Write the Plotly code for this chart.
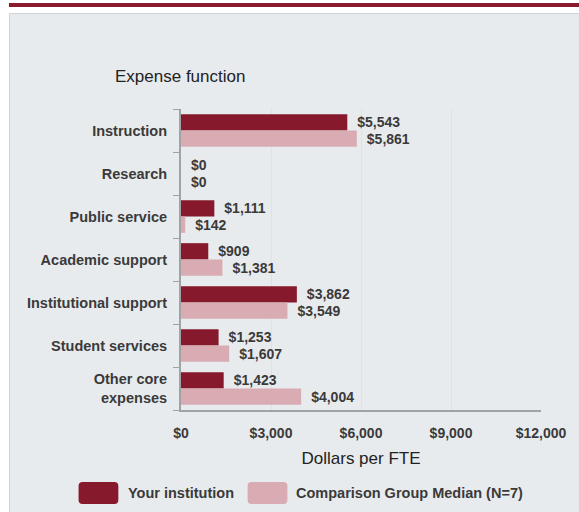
import plotly.graph_objects as go

categories = ["Instruction", "Research", "Public service", "Academic support",
              "Institutional support", "Student services", "Other core<br>expenses"]
your_institution = [5543, 0, 1111, 909, 3862, 1253, 1423]
comparison_median = [5861, 0, 142, 1381, 3549, 1607, 4004]
series_names = ["Your institution", "Comparison Group Median (N=7)"]
x_ticks = [0, 3000, 6000, 9000, 12000]
x_tick_labels = ["$0", "$3,000", "$6,000", "$9,000", "$12,000"]

DARK = "#861a2c"
LIGHT = "#d9acb3"
TXT = "#3a3a3a"
FONT = "Liberation Sans, Arial, sans-serif"

W, H = 579, 512
L, R, T, B = 181, 36, 109, 102
pw, ph = W - L - R, H - T - B

def px(x):
    return (x - L) / pw

def py(y):
    return (H - B - y) / ph

def rounded_rect(x0, y0, x1, y1, r):
    rx, ry = r / pw, r / ph
    X0, X1 = px(x0), px(x1)
    Y0, Y1 = py(y1), py(y0)
    return (f"M {X0+rx},{Y0} L {X1-rx},{Y0} Q {X1},{Y0} {X1},{Y0+ry} "
            f"L {X1},{Y1-ry} Q {X1},{Y1} {X1-rx},{Y1} L {X0+rx},{Y1} "
            f"Q {X0},{Y1} {X0},{Y1-ry} L {X0},{Y0+ry} Q {X0},{Y0} {X0+rx},{Y0} Z")

fig = go.Figure()
for name, vals, col in [(series_names[0], your_institution, DARK),
                        (series_names[1], comparison_median, LIGHT)]:
    fig.add_trace(go.Bar(
        y=categories, x=vals, name=name, orientation="h",
        marker=dict(color=col, line=dict(width=0)),
        texttemplate="\u2002<b>$%{x:,}</b>", textposition="outside", cliponaxis=False,
        textfont=dict(family=FONT, size=14, color=TXT),
        showlegend=False,
    ))

shapes = [
    dict(type="rect", xref="paper", yref="paper", x0=px(8.5), x1=px(590), y0=py(13.5), y1=py(530),
         fillcolor="#e8ebee", line=dict(color="#cfd1d3", width=1), layer="below"),
    dict(type="rect", xref="paper", yref="paper", x0=px(8), x1=px(590), y0=py(3), y1=py(7),
         fillcolor="#8a1a2e", line=dict(width=0), layer="below"),
    dict(type="path", xref="paper", yref="paper", path=rounded_rect(78, 482, 118, 504, 4),
         fillcolor=DARK, line=dict(width=0)),
    dict(type="path", xref="paper", yref="paper", path=rounded_rect(248, 482, 288, 504, 4),
         fillcolor=LIGHT, line=dict(width=0)),
]

annotations = [
    dict(text="Expense function", xref="paper", yref="paper", x=px(113), y=py(76),
         xanchor="left", yanchor="middle", showarrow=False,
         font=dict(family=FONT, size=17, color="#222222")),
    dict(text="<b>" + series_names[0] + "</b>", xref="paper", yref="paper", x=px(126), y=py(493),
         xanchor="left", yanchor="middle", showarrow=False,
         font=dict(family=FONT, size=14.5, color=TXT)),
    dict(text="<b>" + series_names[1] + "</b>", xref="paper", yref="paper", x=px(295), y=py(493),
         xanchor="left", yanchor="middle", showarrow=False,
         font=dict(family=FONT, size=14.5, color=TXT)),
]

fig.update_layout(
    width=W, height=H,
    margin=dict(l=L, r=R, t=T, b=B),
    paper_bgcolor="white", plot_bgcolor="#f5f5f5",
    barmode="group", bargap=0.24, bargroupgap=0,
    font=dict(family=FONT, size=13, color=TXT),
    shapes=shapes, annotations=annotations,
    xaxis=dict(range=[0, 12000], tickvals=x_ticks, ticktext=["<b>" + t + "</b>" for t in x_tick_labels],
               showgrid=True, gridcolor="#dde2ea", gridwidth=1, zeroline=False,
               showline=True, linecolor="#a0a3a6", linewidth=2,
               ticks="", ticklabelstandoff=9, tickfont=dict(family=FONT, size=14, color=TXT),
               title=dict(text="Dollars per FTE", font=dict(family=FONT, size=17, color="#222222"),
                          standoff=12),
               fixedrange=True),
    yaxis=dict(autorange="reversed", tickson="boundaries", ticks="outside", ticklen=6,
               tickcolor="#a0a3a6", showline=True, linecolor="#a0a3a6", linewidth=2,
               showgrid=False, ticklabelstandoff=9, tickfont=dict(family=FONT, size=14.5, color=TXT),
               tickvals=categories, ticktext=["<b>" + c + "</b>" for c in categories],
               fixedrange=True),
)

fig.write_html("out.html", config={"displayModeBar": False},
               post_script="document.body.style.margin='0';")
